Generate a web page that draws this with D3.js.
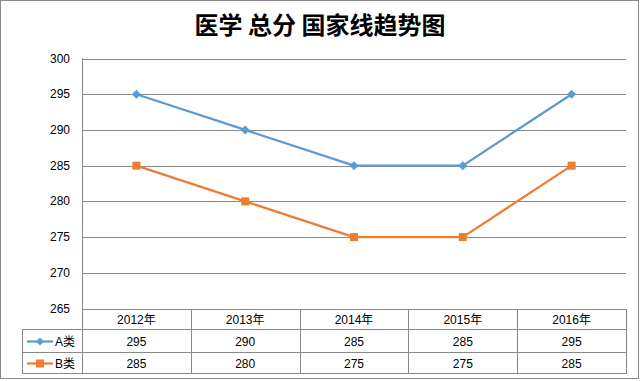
<!DOCTYPE html>
<html><head><meta charset="utf-8">
<script src="https://cdn.jsdelivr.net/npm/d3@7"></script>
<style>body{margin:0;background:#fff}svg{display:block}</style>
</head><body>
<svg id="c" width="641" height="381"></svg>
<script>
const title = "医学 总分 国家线趋势图";
const categories = ["2012年","2013年","2014年","2015年","2016年"];
const seriesNames = ["A类","B类"];
const seriesA = [295,290,285,285,295];
const seriesB = [285,280,275,275,285];
const yTicks = [265,270,275,280,285,290,295,300];
const colors = ["#5B9BD5","#ED7D31"];
const series = [seriesA, seriesB];

const svg = d3.select("#c");
const font = "'Liberation Sans', Arial, 'Noto Sans CJK SC', sans-serif";
const grid = "#898989";

svg.append("rect").attr("x",0.5).attr("y",0.5).attr("width",638).attr("height",378)
  .attr("fill","#fff").attr("stroke","#8a8a8a").attr("stroke-width",1);

svg.append("text").attr("x",320).attr("y",34).attr("text-anchor","middle")
  .attr("font-family","'Noto Sans CJK SC', sans-serif").attr("font-weight","bold")
  .attr("font-size",24).attr("fill","#000").text(title);

const x = d3.scaleBand().domain(categories).range([82,626]);
const y = d3.scaleLinear().domain([265,300]).range([308.5,58.5]);

// gridlines
svg.append("g").selectAll("line").data(yTicks).join("line")
  .attr("x1",82).attr("x2",626).attr("y1",d=>Math.round(y(d))+0.5).attr("y2",d=>Math.round(y(d))+0.5)
  .attr("stroke",grid).attr("stroke-width",1);
svg.append("line").attr("x1",82.5).attr("x2",82.5).attr("y1",58).attr("y2",373).attr("stroke",grid);

// y labels
svg.append("g").selectAll("text").data(yTicks).join("text")
  .attr("x",70).attr("y",d=>Math.round(y(d))+4).attr("text-anchor","end")
  .attr("font-family",font).attr("font-size",12).attr("fill","#000").text(d=>d);

// lines
const line = d3.line().x((d,i)=>x(categories[i])+x.bandwidth()/2).y(d=>y(d));
series.forEach((s,k)=>{
  svg.append("path").attr("d",line(s)).attr("fill","none").attr("stroke",colors[k])
    .attr("stroke-width",2.25).attr("stroke-linejoin","round");
  const g = svg.append("g");
  s.forEach((v,i)=>{
    const cx = x(categories[i])+x.bandwidth()/2, cy = y(v);
    if(k===0){
      g.append("path").attr("d",`M${cx},${cy-4.5}L${cx+4.5},${cy}L${cx},${cy+4.5}L${cx-4.5},${cy}Z`).attr("fill",colors[k]);
    } else {
      g.append("rect").attr("x",cx-4).attr("y",cy-4).attr("width",8).attr("height",8).attr("fill",colors[k]);
    }
  });
});

// table
const rowsY = [309,329,352,373];
const tl = 22, tr = 626;
const tg = svg.append("g");
tg.append("line").attr("x1",82).attr("x2",tr).attr("y1",rowsY[0]+0.5).attr("y2",rowsY[0]+0.5).attr("stroke",grid);
[1,2,3].forEach(r=>tg.append("line").attr("x1",tl).attr("x2",tr).attr("y1",rowsY[r]+0.5).attr("y2",rowsY[r]+0.5).attr("stroke",grid));
tg.append("line").attr("x1",tl+0.5).attr("x2",tl+0.5).attr("y1",rowsY[1]).attr("y2",rowsY[3]+1).attr("stroke",grid);
categories.forEach(c=>{
  const xr = Math.round(x(c)+x.bandwidth())+0.5;
  tg.append("line").attr("x1",xr).attr("x2",xr).attr("y1",rowsY[0]).attr("y2",rowsY[3]+1).attr("stroke",grid);
});
tg.selectAll("text.h").data(categories).join("text").attr("class","h")
  .attr("x",d=>x(d)+x.bandwidth()/2).attr("y",(rowsY[0]+rowsY[1])/2+5).attr("text-anchor","middle")
  .attr("font-family",font).attr("font-size",12).attr("fill","#000").text(d=>d);
series.forEach((s,k)=>{
  const cy = (rowsY[k+1]+rowsY[k+2])/2+1;
  tg.selectAll(null).data(s).join("text")
    .attr("x",(d,i)=>x(categories[i])+x.bandwidth()/2).attr("y",cy+4.5).attr("text-anchor","middle")
    .attr("font-family",font).attr("font-size",12).attr("fill","#000").text(d=>d);
  tg.append("line").attr("x1",27).attr("x2",53).attr("y1",cy).attr("y2",cy).attr("stroke",colors[k]).attr("stroke-width",2.25);
  if(k===0){
    tg.append("path").attr("d",`M40,${cy-4}L44,${cy}L40,${cy+4}L36,${cy}Z`).attr("fill",colors[k]);
  } else {
    tg.append("rect").attr("x",36).attr("y",cy-4).attr("width",8).attr("height",8).attr("fill",colors[k]);
  }
  tg.append("text").attr("x",55).attr("y",cy+4.5).attr("font-family",font).attr("font-size",12)
    .attr("fill","#000").text(seriesNames[k]);
});
</script>
</body></html>
